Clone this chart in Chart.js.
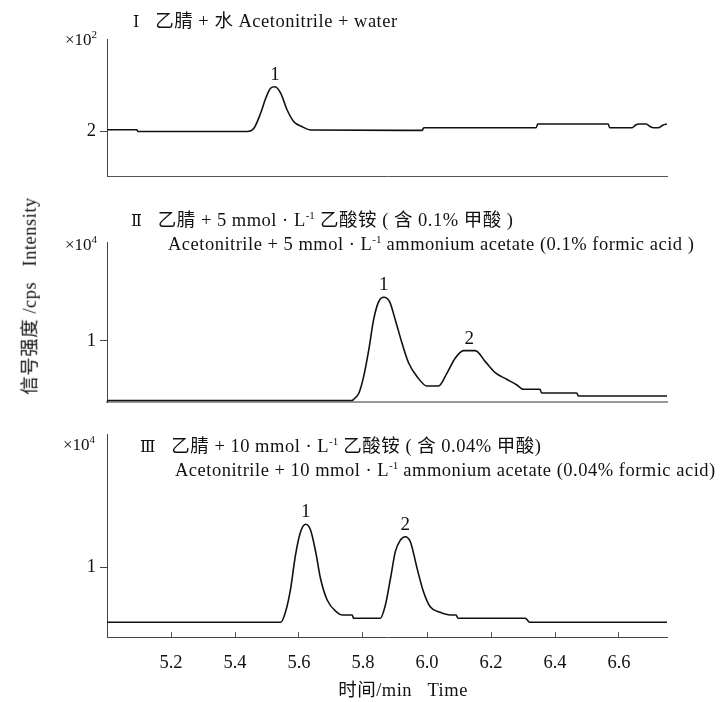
<!DOCTYPE html>
<html lang="zh">
  <head>
    <meta charset="UTF-8" />
    <title>Chromatograms</title>
    <script src="https://cdn.jsdelivr.net/npm/chart.js"></script>
    <style>
      body { margin: 0; background: #fff; }
      .wrap {
        position: relative;
        width: 721px;
        height: 702px;
        font-family: "Liberation Serif", "Noto Sans CJK SC", serif;
        color: #111;
      }
      .wrap canvas { position: absolute; left: 0; top: 0; }
      .txt { position: absolute; white-space: nowrap; font-size: 18.5px; letter-spacing: 0.5px; line-height: 1; }
      .txt sup { font-size: 11px; vertical-align: 7px; line-height: 0; letter-spacing: 0; }
      .mult { text-align: right; font-size: 17px; letter-spacing: 0; }
      .rn { font-family: "DejaVu Serif", "Liberation Serif", serif; font-size: 16px; }
    </style>
  </head>
  <body>
    <div class="wrap">
      <canvas id="c1" width="721" height="702"></canvas>
      <canvas id="c2" width="721" height="702"></canvas>
      <canvas id="c3" width="721" height="702"></canvas>

      <div class="txt" style="left:133px; top:12px"><span class="rn">Ⅰ</span>&nbsp;&nbsp;&nbsp;乙腈 + 水 Acetonitrile + water</div>
      <div class="txt mult" style="right:624px; top:31px">×10<sup>2</sup></div>

      <div class="txt" style="left:131px; top:211px"><span class="rn">Ⅱ</span>&nbsp;&nbsp;&nbsp;乙腈 + 5 mmol · L<sup>-1</sup> 乙酸铵 ( 含 0.1% 甲酸 )</div>
      <div class="txt" style="left:168px; top:235px">Acetonitrile + 5 mmol · L<sup>-1</sup> ammonium acetate (0.1% formic acid )</div>
      <div class="txt mult" style="right:624px; top:236px">×10<sup>4</sup></div>

      <div class="txt" style="left:140px; top:437px"><span class="rn">Ⅲ</span>&nbsp;&nbsp;&nbsp;乙腈 + 10 mmol · L<sup>-1</sup> 乙酸铵 ( 含 0.04% 甲酸)</div>
      <div class="txt" style="left:175px; top:461px">Acetonitrile + 10 mmol · L<sup>-1</sup> ammonium acetate (0.04% formic acid)</div>
      <div class="txt mult" style="right:626px; top:436px">×10<sup>4</sup></div>

      <div class="txt" style="left:30px; top:296px; transform:translate(-50%,-50%) rotate(-90deg)">信号强度 /cps&nbsp;&nbsp;&nbsp;Intensity</div>
      <div class="txt" style="left:403px; top:681px; transform:translateX(-50%)">时间/min&nbsp;&nbsp;&nbsp;Time</div>
    </div>

    <script>
      // time axis (min)
      const xMin = 5.0;
      const xMax = 6.75;
      const xTicks = [5.2, 5.4, 5.6, 5.8, 6.0, 6.2, 6.4, 6.6];

      // I  acetonitrile + water  (x10^2)
      const time1 = [5.0, 5.093, 5.097, 5.437, 5.459, 5.48, 5.496, 5.511, 5.525, 5.543, 5.563, 5.584, 5.61, 5.636,
        5.985, 5.99, 6.341, 6.346, 6.566, 6.571, 6.641, 6.652, 6.662, 6.685, 6.697, 6.708, 6.722, 6.738, 6.75];
      const signal1 = [2.013, 2.013, 1.995, 1.995, 2.027, 2.177, 2.327, 2.427, 2.443, 2.377, 2.21, 2.093, 2.043, 2.01,
        2.006, 2.032, 2.032, 2.07, 2.07, 2.032, 2.032, 2.06, 2.07, 2.07, 2.045, 2.032, 2.032, 2.06, 2.07];
      const yTicks1 = [2];
      const peakTime1 = [5.525];
      const peakSignal1 = [2.443];
      const peakName1 = ["1"];

      // II  5 mmol/L ammonium acetate, 0.1% formic acid  (x10^4)
      const time2 = [5.0, 5.766, 5.772, 5.787, 5.802, 5.818, 5.833, 5.849, 5.865, 5.883, 5.901, 5.922, 5.943, 5.969,
        6.0, 6.036, 6.062, 6.088, 6.114, 6.151, 6.182, 6.213, 6.249, 6.281, 6.301, 6.353, 6.358, 6.468, 6.473, 6.75];
      const signal2 = [0.025, 0.025, 0.05, 0.143, 0.415, 0.852, 1.344, 1.644, 1.716, 1.644, 1.344, 0.962, 0.634, 0.415,
        0.262, 0.262, 0.47, 0.716, 0.841, 0.841, 0.661, 0.48, 0.372, 0.279, 0.208, 0.208, 0.148, 0.148, 0.098, 0.098];
      const yTicks2 = [1];
      const peakTime2 = [5.865, 6.132];
      const peakSignal2 = [1.716, 0.841];
      const peakName2 = ["1", "2"];

      // III  10 mmol/L ammonium acetate, 0.04% formic acid  (x10^4)
      const time3 = [5.0, 5.543, 5.558, 5.574, 5.589, 5.605, 5.621, 5.636, 5.652, 5.667, 5.688, 5.719, 5.735, 5.766,
        5.771, 5.854, 5.87, 5.886, 5.901, 5.917, 5.932, 5.948, 5.969, 5.989, 6.01, 6.041, 6.073, 6.091, 6.097, 6.307,
        6.321, 6.75];
      const signal3 = [0.21, 0.21, 0.361, 0.696, 1.171, 1.504, 1.61, 1.529, 1.219, 0.839, 0.529, 0.353, 0.314, 0.314,
        0.267, 0.267, 0.457, 0.839, 1.219, 1.386, 1.433, 1.361, 0.981, 0.647, 0.433, 0.353, 0.314, 0.314, 0.267, 0.267,
        0.21, 0.21];
      const yTicks3 = [1];
      const peakTime3 = [5.621, 5.932];
      const peakSignal3 = [1.61, 1.433];
      const peakName3 = ["1", "2"];

      const serif = '"Liberation Serif", "Noto Sans CJK SC", serif';
      Chart.defaults.font.family = serif;
      Chart.defaults.font.size = 18.5;
      Chart.defaults.color = "#111";

      const leftW = 107; // y axis box width
      const rightPad = 54;

      // numbers above the peaks
      const peakLabels = {
        id: "peakLabels",
        afterDatasetsDraw(chart, args, opts) {
          const { ctx } = chart;
          const x = chart.scales.x;
          const y = chart.scales.y;
          ctx.save();
          ctx.font = "19px " + serif;
          ctx.fillStyle = "#111";
          ctx.textAlign = "center";
          ctx.textBaseline = "middle";
          opts.times.forEach(function (t, i) {
            ctx.fillText(opts.names[i], x.getPixelForValue(t), y.getPixelForValue(opts.signals[i]) - 12);
          });
          ctx.restore();
        },
      };

      const makePanel = function (id, times, signals, p) {
        const points = times.map(function (t, i) {
          return { x: t, y: signals[i] };
        });
        const xH = p.xLabels ? 702 - p.bottom : 0;
        return new Chart(document.getElementById(id), {
          type: "line",
          data: {
            datasets: [
              {
                data: points,
                borderColor: "#111",
                borderWidth: 1.6,
                pointRadius: 0,
                cubicInterpolationMode: "monotone",
                fill: false,
              },
            ],
          },
          options: {
            responsive: false,
            animation: false,
            events: [],
            layout: { padding: { left: 0, right: rightPad, top: p.top, bottom: 702 - p.bottom - xH } },
            scales: {
              x: {
                type: "linear",
                min: xMin,
                max: xMax,
                afterBuildTicks: function (s) {
                  s.ticks = xTicks.map(function (v) { return { value: v }; });
                },
                afterFit: function (s) { s.height = xH; },
                border: { color: p.xBorder, width: p.xBorderWidth },
                grid: { drawOnChartArea: false, drawTicks: p.xLabels, tickLength: -5, color: "#555" },
                ticks: {
                  display: p.xLabels,
                  padding: 20,
                  autoSkip: false,
                  maxRotation: 0,
                  callback: function (v) { return v.toFixed(1); },
                },
              },
              y: {
                min: p.yMin,
                max: p.yMax,
                afterBuildTicks: function (s) {
                  s.ticks = p.yTicks.map(function (v) { return { value: v }; });
                },
                afterFit: function (s) { s.width = leftW; },
                border: { color: "#444", width: 1 },
                grid: { drawOnChartArea: false, tickLength: 7, color: "#444" },
                ticks: { padding: 4 },
              },
            },
            plugins: {
              legend: { display: false },
              tooltip: { enabled: false },
              peakLabels: { times: p.peakTimes, signals: p.peakSignals, names: p.peakNames },
            },
          },
          plugins: [peakLabels],
        });
      };

      makePanel("c1", time1, signal1, {
        top: 39, bottom: 176, yMin: 1.55, yMax: 2.92, yTicks: yTicks1,
        xLabels: false, xBorder: "#555", xBorderWidth: 1,
        peakTimes: peakTime1, peakSignals: peakSignal1, peakNames: peakName1,
      });
      makePanel("c2", time2, signal2, {
        top: 242, bottom: 402, yMin: 0, yMax: 2.62, yTicks: yTicks2,
        xLabels: false, xBorder: "#999", xBorderWidth: 2,
        peakTimes: peakTime2, peakSignals: peakSignal2, peakNames: peakName2,
      });
      makePanel("c3", time3, signal3, {
        top: 434, bottom: 637, yMin: 0, yMax: 2.9, yTicks: yTicks3,
        xLabels: true, xBorder: "#444", xBorderWidth: 1,
        peakTimes: peakTime3, peakSignals: peakSignal3, peakNames: peakName3,
      });
    </script>
  </body>
</html>
